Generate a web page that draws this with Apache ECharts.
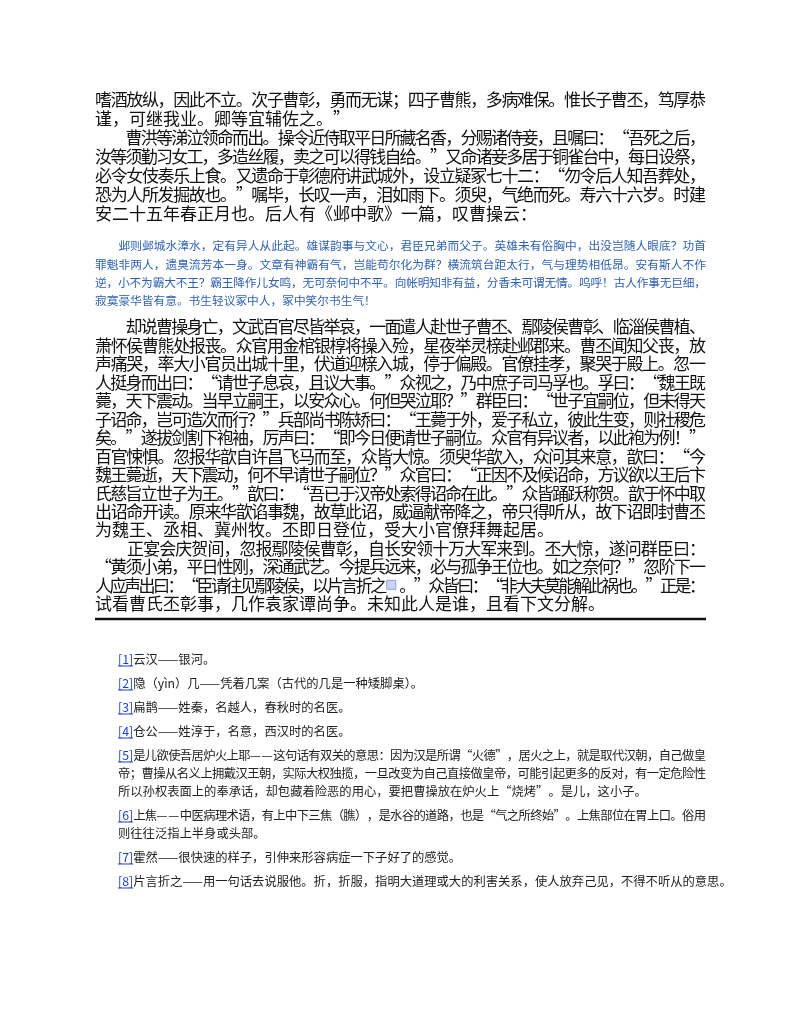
<!DOCTYPE html>
<html lang="zh">
<head>
    <meta charset="UTF-8">
    <title>三国演义 第七十八回 节选</title>
    <script src="https://cdn.jsdelivr.net/npm/echarts@6/dist/echarts.min.js"></script>
    <style>
        body, html { margin: 0; padding: 0; background: #fff; }
        #page { width: 800px; height: 1035px; }
    </style>
</head>
<body>
<div id="page"></div>
<script>
    // 正文第一段（每行一条，末行不两端对齐）
    var para1Lines = [
        '嗜酒放纵，因此不立。次子曹彰，勇而无谋；四子曹熊，多病难保。惟长子曹丕，笃厚恭',
        '谨，可继我业。卿等宜辅佐之。”',
        '　　曹洪等涕泣领命而出。操令近侍取平日所藏名香，分赐诸侍妾，且嘱曰：“吾死之后，',
        '汝等须勤习女工，多造丝履，卖之可以得钱自给。”又命诸妾多居于铜雀台中，每日设祭，',
        '必令女伎奏乐上食。又遗命于彰德府讲武城外，设立疑冢七十二：“勿令后人知吾葬处，',
        '恐为人所发掘故也。”嘱毕，长叹一声，泪如雨下。须臾，气绝而死。寿六十六岁。时建',
        '安二十五年春正月也。后人有《邺中歌》一篇，叹曹操云：'
    ];
    var para1Last = [1, 6];

    var poemLines = [
        '　　邺则邺城水漳水，定有异人从此起。雄谋韵事与文心，君臣兄弟而父子。英雄未有俗胸中，出没岂随人眼底？功首',
        '罪魁非两人，遗臭流芳本一身。文章有神霸有气，岂能苟尔化为群？横流筑台距太行，气与理势相低昂。安有斯人不作',
        '逆，小不为霸大不王？霸王降作儿女鸣，无可奈何中不平。向帐明知非有益，分香未可谓无情。呜呼！古人作事无巨细，',
        '寂寞豪华皆有意。书生轻议冢中人，冢中笑尔书生气！'
    ];
    var poemLast = [3];

    var para2Lines = [
        '　　却说曹操身亡，文武百官尽皆举哀，一面遣人赴世子曹丕、鄢陵侯曹彰、临淄侯曹植、',
        '萧怀侯曹熊处报丧。众官用金棺银椁将操入殓，星夜举灵榇赴邺郡来。曹丕闻知父丧，放',
        '声痛哭，率大小官员出城十里，伏道迎榇入城，停于偏殿。官僚挂孝，聚哭于殿上。忽一',
        '人挺身而出曰：“请世子息哀，且议大事。”众视之，乃中庶子司马孚也。孚曰：“魏王既',
        '薨，天下震动。当早立嗣王，以安众心。何但哭泣耶？”群臣曰：“世子宜嗣位，但未得天',
        '子诏命，岂可造次而行？”兵部尚书陈矫曰：“王薨于外，爱子私立，彼此生变，则社稷危',
        '矣。”遂拔剑割下袍袖，厉声曰：“即今日便请世子嗣位。众官有异议者，以此袍为例！”',
        '百官悚惧。忽报华歆自许昌飞马而至，众皆大惊。须臾华歆入，众问其来意，歆曰：“今',
        '魏王薨逝，天下震动，何不早请世子嗣位？”众官曰：“正因不及候诏命，方议欲以王后卞',
        '氏慈旨立世子为王。”歆曰：“吾已于汉帝处索得诏命在此。”众皆踊跃称贺。歆于怀中取',
        '出诏命开读。原来华歆谄事魏，故草此诏，威逼献帝降之，帝只得听从，故下诏即封曹丕',
        '为魏王、丞相、冀州牧。丕即日登位，受大小官僚拜舞起居。',
        '　　正宴会庆贺间，忽报鄢陵侯曹彰，自长安领十万大军来到。丕大惊，遂问群臣曰：',
        '“黄须小弟，平日性刚，深通武艺。今提兵远来，必与孤争王位也。如之奈何？”忽阶下一',
        '人应声出曰：“臣请往见鄢陵侯，以片言折之□。”众皆曰：“非大夫莫能解此祸也。”正是：',
        '试看曹氏丕彰事，几作袁家谭尚争。未知此人是谁，且看下文分解。'
    ];
    var para2Last = [11, 15];

    // 注释：标号 + 各行
    var noteLabels = ['[1]', '[2]', '[3]', '[4]', '[5]', '[6]', '[7]', '[8]'];
    var noteLines = [
        ['云汉——银河。'],
        ['隐（yìn）几——凭着几案（古代的几是一种矮脚桌）。'],
        ['扁鹊——姓秦，名越人，春秋时的名医。'],
        ['仓公——姓淳于，名意，西汉时的名医。'],
        ['是儿欲使吾居炉火上耶——这句话有双关的意思：因为汉是所谓“火德”，居火之上，就是取代汉朝，自己做皇',
         '帝；曹操从名义上拥戴汉王朝，实际大权独揽，一旦改变为自己直接做皇帝，可能引起更多的反对，有一定危险性',
         '所以孙权表面上的奉承话，却包藏着险恶的用心，要把曹操放在炉火上“烧烤”。是儿，这小子。'],
        ['上焦——中医病理术语，有上中下三焦（膲），是水谷的道路，也是“气之所终始”。上焦部位在胃上口。俗用',
         '则往往泛指上半身或头部。'],
        ['霍然——很快速的样子，引伸来形容病症一下子好了的感觉。'],
        ['片言折之——用一句话去说服他。折，折服，指明大道理或大的利害关系，使人放弃己见，不得不听从的意思。']
    ];

    var FONT = '"Noto Sans CJK SC", "Noto Sans", sans-serif';
    var LEFT = 95, RIGHT = 706;
    var elements = [];
    var ctx = document.createElement('canvas').getContext('2d');

    function measure(text, size) {
        ctx.font = size + 'px ' + FONT;
        return ctx.measureText(text).width;
    }

    // 一行：逐字排布，需要时两端对齐
    function drawLine(text, x0, x1, y, size, color, justify) {
        if (!justify) {
            // 不对齐的行按 CJK 字宽逐字放，占位符画成小方块
            var cx = x0;
            Array.from(text).forEach(function (ch) {
                if (ch === '□') {
                    elements.push({ type: 'rect', shape: { x: cx + 2, y: y - 5, width: 9, height: 9 },
                        style: { fill: '#c9d5f2', stroke: '#8aa0d8', lineWidth: 1 } });
                    cx += 13;
                    return;
                }
                elements.push({ type: 'text', x: cx, y: y,
                    style: { text: ch, font: size + 'px ' + FONT, fill: color, verticalAlign: 'middle' } });
                cx += /[\x00-\x7f]/.test(ch) ? measure(ch, size) : size;
            });
            return;
        }
        var chars = Array.from(text);
        var step = (x1 - x0 - size) / (chars.length - 1);
        chars.forEach(function (ch, i) {
            var cx = x0 + i * step;
            if (ch === '□') {
                elements.push({ type: 'rect', shape: { x: cx + 2, y: y - 5, width: 9, height: 9 },
                    style: { fill: '#c9d5f2', stroke: '#8aa0d8', lineWidth: 1 } });
                return;
            }
            elements.push({ type: 'text', x: cx, y: y,
                style: { text: ch, font: size + 'px ' + FONT, fill: color, verticalAlign: 'middle' } });
        });
    }

    function drawBlock(lines, lastIdx, top, gap, size, color) {
        lines.forEach(function (t, i) {
            drawLine(t, LEFT, RIGHT, top + i * gap, size, color, lastIdx.indexOf(i) < 0);
        });
    }

    drawBlock(para1Lines, para1Last, 100, 19, 17, '#111');
    drawBlock(poemLines, poemLast, 246, 18.3, 11.7, '#2f62b3');
    drawBlock(para2Lines, para2Last, 327, 18.45, 17, '#111');

    // 正文下方的粗线
    elements.push({ type: 'line', shape: { x1: LEFT, y1: 619, x2: RIGHT, y2: 619 },
        style: { stroke: '#111', lineWidth: 2.5 } });

    // 注释
    var ny = 659, NOTE_SIZE = 12.3, NOTE_X = 118;
    noteLabels.forEach(function (lab, k) {
        var lw = measure(lab, NOTE_SIZE);
        elements.push({ type: 'text', x: NOTE_X, y: ny,
            style: { text: lab, font: NOTE_SIZE + 'px ' + FONT, fill: '#1a3fd0', verticalAlign: 'middle' } });
        elements.push({ type: 'line', shape: { x1: NOTE_X, y1: ny + 7, x2: NOTE_X + lw, y2: ny + 7 },
            style: { stroke: '#1a3fd0', lineWidth: 1 } });
        var lines = noteLines[k];
        lines.forEach(function (t, i) {
            var x0 = i === 0 ? NOTE_X + lw : NOTE_X;
            var justify = i < lines.length - 1;
            if (justify) {
                drawLine(t, x0, RIGHT, ny, NOTE_SIZE, '#222', true);
            } else {
                elements.push({ type: 'text', x: x0, y: ny,
                    style: { text: t, font: NOTE_SIZE + 'px ' + FONT, fill: '#222', verticalAlign: 'middle' } });
            }
            ny += i < lines.length - 1 ? 18 : 24;
        });
    });

    var chart = echarts.init(document.getElementById('page'));
    chart.setOption({
        backgroundColor: '#fff',
        graphic: { elements: elements }
    });
</script>
</body>
</html>
